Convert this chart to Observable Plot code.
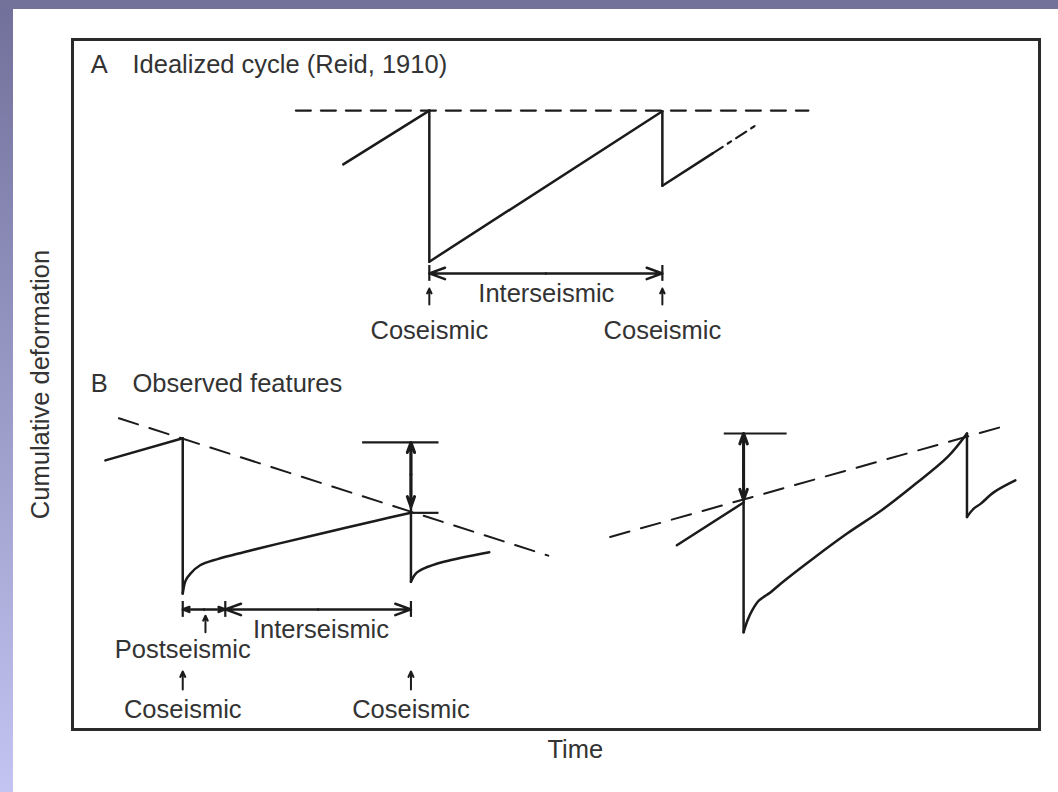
<!DOCTYPE html>
<html><head><meta charset="utf-8">
<script src="https://cdn.jsdelivr.net/npm/d3@7"></script>
<script src="https://cdn.jsdelivr.net/npm/@observablehq/plot@0.6"></script>
<style>
html,body{margin:0;padding:0;background:#fff;}
#wrap{position:relative;width:1058px;height:792px;overflow:hidden;background:#fff;}
#stripL{position:absolute;left:0;top:0;width:13px;height:792px;background:linear-gradient(#70709b,#c4c4f2);}
#stripT{position:absolute;left:0;top:0;width:1058px;height:9px;background:#72729b;}
#chart{position:absolute;left:0;top:0;}
</style></head><body>
<div id="wrap"><div id="stripL"></div><div id="stripT"></div><div id="chart"></div></div>
<script>
// ---- Data (time t, cumulative deformation d, arbitrary units 0–100) ----
const axisLabels = {x: "Time", y: "Cumulative deformation"};

// Panel A: idealized cycle
const aReference = [{t: 23.1, d: 89.7}, {t: 76.1, d: 89.7}];
const aCycleSegments = [
  {seg: "a1", pts: [[28.0, 81.9], [36.9, 89.7]]},
  {seg: "a2", pts: [[36.9, 89.7], [36.9, 67.8]]},
  {seg: "a3", pts: [[36.9, 67.8], [61.0, 89.6]]},
  {seg: "a4", pts: [[61.0, 89.6], [61.0, 78.8]]},
  {seg: "a5", pts: [[61.0, 78.8], [66.2, 83.5]]}
];
const aProjection = [{t: 66.2, d: 83.5}, {t: 70.7, d: 87.6}];

// Panel B: observed features
const bReferences = [
  {seg: "bl", pts: [[4.8, 45.1], [49.2, 25.2]]},
  {seg: "br", pts: [[55.6, 27.9], [96.7, 44.1]]}
];
const bCycleSegments = [
  {seg: "b1", pts: [[3.4, 39.0], [11.4, 42.2]]},
  {seg: "b2", pts: [[11.4, 42.2], [11.4, 19.7]]},
  {seg: "b3", pts: [[11.4, 19.7], [11.7, 21.6], [12.2, 22.6], [13.2, 23.8], [15.0, 24.7], [17.7, 25.7], [21.2, 26.9], [26.3, 28.6], [31.5, 30.3], [35.0, 31.4]]},
  {seg: "b4", pts: [[35.0, 41.6], [35.0, 21.4]]},
  {seg: "b5", pts: [[35.0, 21.4], [35.5, 22.6], [36.3, 23.3], [38.4, 24.3], [43.1, 25.7]]},
  {seg: "b6", pts: [[62.5, 26.7], [69.4, 32.9]]},
  {seg: "b7", pts: [[69.4, 42.9], [69.4, 14.1]]},
  {seg: "b8", pts: [[69.4, 14.1], [69.8, 15.8], [70.3, 17.3], [71.0, 18.7], [72.2, 19.9], [73.2, 21.1], [76.7, 24.9], [80.1, 28.4], [83.6, 31.7], [87.0, 35.4], [90.5, 39.5], [92.5, 42.9]]},
  {seg: "b9", pts: [[92.5, 42.9], [92.5, 30.8]]},
  {seg: "b10", pts: [[92.5, 30.8], [93.2, 32.0], [93.9, 32.7], [95.3, 34.4], [97.5, 36.1]]}
];
// horizontal reference levels (top of slip-deficit arrows)
const levelBars = [
  {t1: 30.0, t2: 37.9, d: 41.6},
  {t1: 35.0, t2: 37.9, d: 31.4},
  {t1: 67.4, t2: 73.9, d: 42.9}
];
// vertical double arrows (deficit between level and reference trend)
const deficits = [
  {t: 35.0, top: 41.6, bottom: 32.3},
  {t: 69.4, top: 42.9, bottom: 33.3}
];
// time intervals (double-headed horizontal arrows)
const intervals = [
  {t1: 36.9, t2: 61.0, d: 66.1},
  {t1: 11.4, t2: 15.8, d: 17.4},
  {t1: 15.8, t2: 35.0, d: 17.4}
];
// small pointer arrows
const pointers = [
  {t: 36.9, from: 61.6, to: 63.9},
  {t: 61.0, from: 61.6, to: 63.9},
  {t: 13.75, from: 14.1, to: 16.5},
  {t: 11.4, from: 5.8, to: 8.4},
  {t: 35.0, from: 5.8, to: 8.4}
];
const panelTitles = [
  {letter: "A", title: "Idealized cycle (Reid, 1910)", d: 96.4},
  {letter: "B", title: "Observed features", d: 50.1}
];
const annotations = [
  {text: "Interseismic", t: 49.0, d: 63.2},
  {text: "Coseismic", t: 36.9, d: 57.8},
  {text: "Coseismic", t: 61.0, d: 57.8},
  {text: "Interseismic", t: 25.7, d: 14.5},
  {text: "Postseismic", t: 11.4, d: 11.5},
  {text: "Coseismic", t: 11.4, d: 2.9},
  {text: "Coseismic", t: 35.0, d: 2.9}
];
const timeLabelAt = 52.0;

// ---- helpers ----
const flat = segs => segs.flatMap(s => s.pts.map(([t, d]) => ({seg: s.seg, t, d})));
const ink = "#1b1b1b";
const textInk = "#333";
const fs = 25.5;
const barHalf = 1.15;

const intervalArrows = intervals.flatMap(iv => {
  const m = (iv.t1 + iv.t2) / 2;
  return [{x1: m, x2: iv.t1, y1: iv.d, y2: iv.d}, {x1: m, x2: iv.t2, y1: iv.d, y2: iv.d}];
});
const intervalBars = [...new Map(intervals.flatMap(iv => [[iv.t1 + "|" + iv.d, {t: iv.t1, d: iv.d}], [iv.t2 + "|" + iv.d, {t: iv.t2, d: iv.d}]])).values()];
const deficitArrows = deficits.flatMap(df => {
  const m = (df.top + df.bottom) / 2;
  return [{x: df.t, y1: m, y2: df.top}, {x: df.t, y1: m, y2: df.bottom}];
});

const plot = Plot.plot({
  width: 1058,
  height: 792,
  marginLeft: 72,
  marginRight: 19,
  marginTop: 39,
  marginBottom: 63,
  x: {domain: [0, 100], axis: null},
  y: {domain: [0, 100], axis: null},
  style: {background: "transparent", fontFamily: "'Liberation Sans', Arial, Helvetica, sans-serif", overflow: "visible"},
  marks: [
    Plot.frame({stroke: "#2a2a2a", strokeWidth: 3}),
    // reference (dashed) lines
    Plot.line(aReference, {x: "t", y: "d", stroke: ink, strokeWidth: 2.2, strokeDasharray: "15,10"}),
    Plot.line(flat(bReferences), {x: "t", y: "d", z: "seg", stroke: ink, strokeWidth: 2, strokeDasharray: "20,12"}),
    // projection
    Plot.line(aProjection, {x: "t", y: "d", stroke: ink, strokeWidth: 2.2, strokeDasharray: "12,6,4,6"}),
    // cycles
    Plot.line(flat(aCycleSegments), {x: "t", y: "d", z: "seg", stroke: ink, strokeWidth: 2.5, strokeLinecap: "round", strokeLinejoin: "round"}),
    Plot.line(flat(bCycleSegments), {x: "t", y: "d", z: "seg", curve: "catmull-rom", stroke: ink, strokeWidth: 2.5, strokeLinecap: "round", strokeLinejoin: "round"}),
    // level bars
    Plot.ruleY(levelBars, {y: "d", x1: "t1", x2: "t2", stroke: ink, strokeWidth: 2.2}),
    // deficit arrows
    Plot.arrow(deficitArrows, {x: "x", y1: "y1", y2: "y2", stroke: ink, strokeWidth: 3, headLength: 10, headAngle: 40}),
    // interval arrows + end bars
    Plot.arrow(intervalArrows, {x1: "x1", x2: "x2", y1: "y1", y2: "y2", stroke: ink, strokeWidth: 2.5, headLength: 10, headAngle: 40}),
    Plot.ruleX(intervalBars, {x: "t", y1: d => d.d - barHalf, y2: d => d.d + barHalf, stroke: ink, strokeWidth: 2.2}),
    // pointers
    Plot.arrow(pointers, {x: "t", y1: "from", y2: "to", stroke: ink, strokeWidth: 2, headLength: 7, headAngle: 50}),
    // panel titles
    Plot.text(panelTitles, {x: 1.9, y: "d", text: "letter", textAnchor: "start", fontSize: fs, fill: textInk}),
    Plot.text(panelTitles, {x: 6.2, y: "d", text: "title", textAnchor: "start", fontSize: fs, fill: textInk}),
    // annotations
    Plot.text(annotations, {x: "t", y: "d", text: "text", fontSize: fs, fill: textInk}),
    // axis labels
    Plot.text([axisLabels.y], {frameAnchor: "left", dx: -32, rotate: -90, textAnchor: "middle", fontSize: fs, fill: textInk}),
    Plot.text([axisLabels.x], {x: () => timeLabelAt, frameAnchor: "bottom", dy: 28, fontSize: fs, fill: textInk})
  ]
});
document.getElementById("chart").appendChild(plot);
</script>
</body></html>
